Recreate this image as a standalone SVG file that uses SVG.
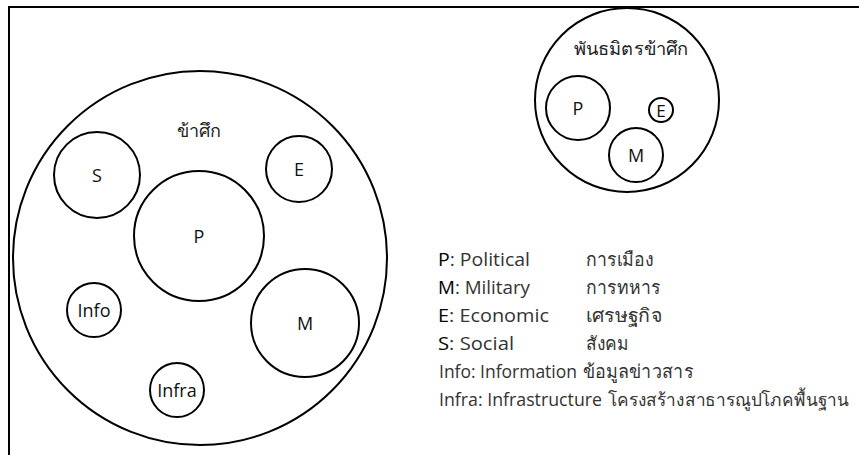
<svg xmlns="http://www.w3.org/2000/svg" width="859" height="455" viewBox="0 0 859 455">
<style>
.c{fill:none;stroke:#000;stroke-width:2}
.t{font-family:"Open Sans","Noto Sans","DejaVu Sans",sans-serif;font-size:18px;fill:#111;text-anchor:middle;dominant-baseline:central}
.th{font-family:"Open Sans","Noto Sans","DejaVu Sans",sans-serif;font-size:18px;fill:#222;text-anchor:middle}
.lg{font-family:"Open Sans","Noto Sans","DejaVu Sans",sans-serif;font-size:19px;fill:#333}
.k{fill:#000}
</style>
<rect width="859" height="455" fill="#fff"/>
<g id="frame"><polyline points="9,455 9,7 859,7" fill="none" stroke="#000" stroke-width="2"/></g>
<g id="enemy">
<circle class="c" cx="200" cy="258" r="187"/>
<text class="th" x="199" y="137">ข้าศึก</text>
</g>
<g id="enemy-S"><circle class="c" cx="97" cy="175" r="43"/><text class="t" x="97" y="175">S</text></g>
<g id="enemy-E"><circle class="c" cx="299" cy="169" r="33"/><text class="t" x="299" y="169">E</text></g>
<g id="enemy-P"><circle class="c" cx="199" cy="236" r="65"/><text class="t" x="199" y="236">P</text></g>
<g id="enemy-Info"><circle class="c" cx="94" cy="310" r="27"/><text class="t" x="94" y="310">Info</text></g>
<g id="enemy-M"><circle class="c" cx="305" cy="323" r="54"/><text class="t" x="305" y="323">M</text></g>
<g id="enemy-Infra"><circle class="c" cx="177" cy="390" r="27"/><text class="t" x="177" y="390">Infra</text></g>
<g id="ally">
<circle class="c" cx="627" cy="100" r="92"/>
<text class="th" x="631" y="55" textLength="115" lengthAdjust="spacingAndGlyphs">พันธมิตรข้าศึก</text>
</g>
<g id="ally-P"><circle class="c" cx="578" cy="108" r="32"/><text class="t" x="578" y="108">P</text></g>
<g id="ally-E"><circle class="c" cx="661" cy="110" r="12"/><text class="t" x="661" y="110" style="font-size:17px">E</text></g>
<g id="ally-M"><circle class="c" cx="636" cy="155" r="27"/><text class="t" x="636" y="155">M</text></g>
<g id="connectors"></g>
<g id="legend">
<text class="lg" x="438" y="266" textLength="92" lengthAdjust="spacingAndGlyphs"><tspan class="k">P</tspan>: Political</text><text class="lg" x="586" y="266" textLength="67" lengthAdjust="spacingAndGlyphs">การเมือง</text>
<text class="lg" x="438" y="294" textLength="92" lengthAdjust="spacingAndGlyphs"><tspan class="k">M</tspan>: Military</text><text class="lg" x="586" y="294" textLength="74" lengthAdjust="spacingAndGlyphs">การทหาร</text>
<text class="lg" x="438" y="322" textLength="111" lengthAdjust="spacingAndGlyphs"><tspan class="k">E</tspan>: Economic</text><text class="lg" x="586" y="322" textLength="76" lengthAdjust="spacingAndGlyphs">เศรษฐกิจ</text>
<text class="lg" x="438" y="350" textLength="76" lengthAdjust="spacingAndGlyphs"><tspan class="k">S</tspan>: Social</text><text class="lg" x="586" y="350" textLength="43" lengthAdjust="spacingAndGlyphs">สังคม</text>
<text class="lg" x="439" y="378" textLength="138" lengthAdjust="spacingAndGlyphs">Info: Information</text><text class="lg" x="583" y="378" textLength="110" lengthAdjust="spacingAndGlyphs">ข้อมูลข่าวสาร</text>
<text class="lg" x="439" y="406" textLength="163" lengthAdjust="spacingAndGlyphs">Infra: Infrastructure</text><text class="lg" x="608" y="406" style="font-size:17.5px" textLength="241" lengthAdjust="spacingAndGlyphs">โครงสร้างสาธารณูปโภคพื้นฐาน</text>
</g>
</svg>
